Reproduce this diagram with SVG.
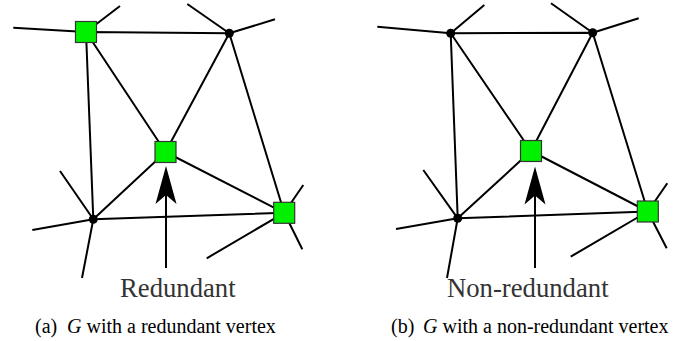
<svg xmlns="http://www.w3.org/2000/svg" width="687" height="341" viewBox="0 0 687 341">
<style>
.e{stroke:#000;stroke-width:2;fill:none;stroke-linecap:butt}
.sq{fill:#00f000;stroke:#333;stroke-width:1.2}
.dot{fill:#000}
.lbl{font-family:"Liberation Serif",serif;font-size:26.7px;fill:#333}
.cap{font-family:"Liberation Serif",serif;font-size:20px;fill:#000}
</style>
<defs>
<path id="ah" d="M0,0 L10.5,38 L0,29 L-10.5,38 Z" fill="#000"/>
</defs>
<rect width="687" height="341" fill="#fff"/>
<g id="connectors">
<path class="e" d="M86,32 L229.3,33.3 M86,32 L165.5,152 M86,32 L93.3,219.3 M229.3,33.3 L165.5,152 M229.3,33.3 L284.2,212.8 M165.5,152 L93.3,219.3 M165.5,152 L284.2,212.8 M93.3,219.3 L284.2,212.8"/>
<path class="e" d="M86,32 L13.3,27.7 M86,32 L120,6 M229.3,33.3 L187.3,4 M229.3,33.3 L275,19.3 M93.3,219.3 L60,171 M93.3,219.3 L32.3,230 M93.3,219.3 L82,278 M284.2,212.8 L303.3,185 M284.2,212.8 L302.3,249.3 M284.2,212.8 L206.7,258.3"/>
<path class="e" d="M166,190 L166,268"/>
<use href="#ah" x="166" y="166"/>
<path class="e" d="M450.7,33.3 L592.7,32.7 M450.7,33.3 L531,151 M450.7,33.3 L457.7,218.3 M592.7,32.7 L531,151 M592.7,32.7 L647.8,211.5 M531,151 L457.7,218.3 M531,151 L647.8,211.5 M457.7,218.3 L647.8,211.5"/>
<path class="e" d="M450.7,33.3 L377.3,26.7 M450.7,33.3 L484.3,5 M592.7,32.7 L551,3.3 M592.7,32.7 L638.7,18.3 M457.7,218.3 L423.3,170 M457.7,218.3 L396,229 M457.7,218.3 L447,278 M647.8,211.5 L667.3,183.3 M647.8,211.5 L666.7,248.3 M647.8,211.5 L570.7,256.7"/>
<path class="e" d="M535,190 L535,268"/>
<use href="#ah" x="535" y="166.5"/>
</g>
<g id="a-tl"><rect class="sq" x="75.5" y="21.5" width="21" height="21"/></g>
<g id="a-tr"><circle class="dot" cx="229.3" cy="33.3" r="4.5"/></g>
<g id="a-c"><rect class="sq" x="155" y="141.5" width="21" height="21"/></g>
<g id="a-bl"><circle class="dot" cx="93.3" cy="219.3" r="4.5"/></g>
<g id="a-br"><rect class="sq" x="273.7" y="202.3" width="21" height="21"/></g>
<g id="b-tl"><circle class="dot" cx="450.7" cy="33.3" r="4.5"/></g>
<g id="b-tr"><circle class="dot" cx="592.7" cy="32.7" r="4.5"/></g>
<g id="b-c"><rect class="sq" x="520.5" y="140.5" width="21" height="21"/></g>
<g id="b-bl"><circle class="dot" cx="457.7" cy="218.3" r="4.5"/></g>
<g id="b-br"><rect class="sq" x="637.3" y="201" width="21" height="21"/></g>
<g id="labels">
<text class="lbl" x="120" y="297">Redundant</text>
<text class="lbl" x="447" y="297">Non-redundant</text>
<text class="cap" y="333"><tspan x="35">(a)</tspan><tspan x="67" font-style="italic">G</tspan> with a redundant vertex</text>
<text class="cap" y="333"><tspan x="391">(b)</tspan><tspan x="423" font-style="italic">G</tspan> with a non-redundant vertex</text>
</g>
</svg>
